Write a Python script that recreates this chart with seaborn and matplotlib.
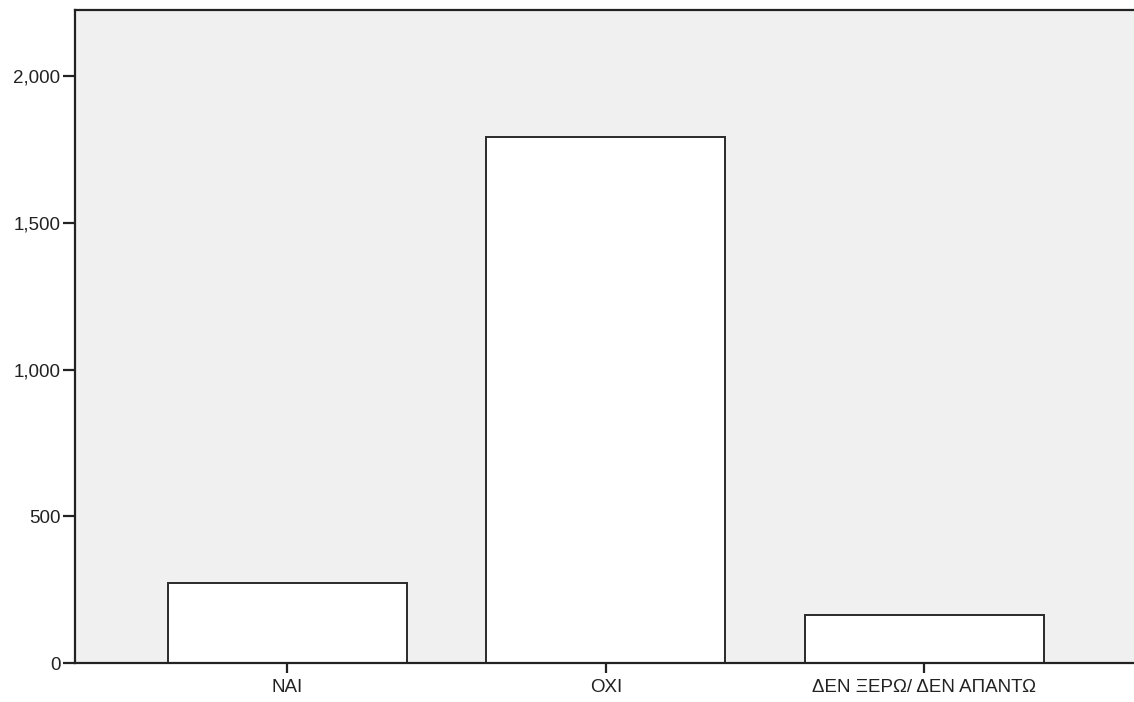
import matplotlib
matplotlib.use("Agg")
import matplotlib.pyplot as plt
import seaborn as sns
from matplotlib.ticker import FuncFormatter

# data
categories = ["ΝΑΙ", "ΟΧΙ", "ΔΕΝ ΞΕΡΩ/ ΔΕΝ ΑΠΑΝΤΩ"]
counts = [273, 1791, 164]
y_ticks = [0, 500, 1000, 1500, 2000]

sns.set_style("white")
plt.rcParams["font.family"] = ["Liberation Sans", "DejaVu Sans"]

fig = plt.figure(figsize=(11.34, 7.02), dpi=100)
ax = fig.add_axes([75 / 1134, 38.7 / 702, (1134 - 75) / 1134, (663.3 - 10) / 702])
ax.set_facecolor("#f0f0f0")

sns.barplot(x=categories, y=counts, color="white", edgecolor="#2a2a2a",
            linewidth=1.4, width=0.75, saturation=1, ax=ax)

ax.set_xlim(-0.667, 2.658)
ax.set_ylim(0, 2225)
ax.set_yticks(y_ticks)
ax.yaxis.set_major_formatter(FuncFormatter(lambda v, p: f"{v:,.0f}"))
ax.set_xlabel("")
ax.set_ylabel("")

for side in ["left", "bottom", "top"]:
    ax.spines[side].set_visible(True)
    ax.spines[side].set_color("#222222")
    ax.spines[side].set_linewidth(1.6)
ax.spines["right"].set_visible(False)

ax.tick_params(axis="both", which="major", direction="out", width=1.6,
               color="#222222", labelsize=13.5, labelcolor="#222222",
               left=True, bottom=True)
ax.tick_params(axis="y", length=8.5, pad=2)
ax.tick_params(axis="x", length=7, pad=4)

plt.savefig("out.png", dpi=100, facecolor="white")
